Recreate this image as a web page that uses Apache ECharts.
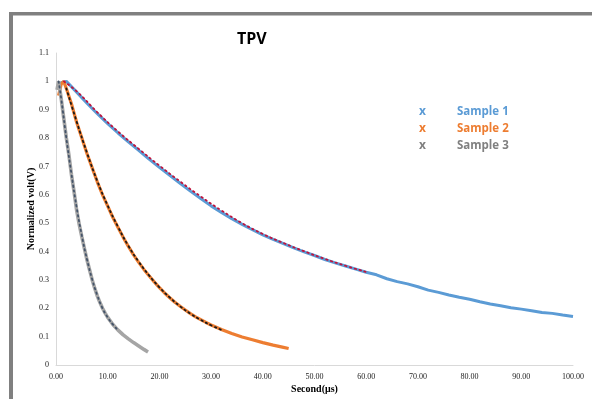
<!DOCTYPE html>
<html>
<head>
<meta charset="utf-8">
<script src="https://cdn.jsdelivr.net/npm/echarts@6/dist/echarts.min.js"></script>
<style>html,body{margin:0;padding:0;background:#fff}#c{width:592px;height:399px}</style>
</head>
<body>
<div id="c"></div>
<script>
const seriesNames = ['Sample 1', 'Sample 2', 'Sample 3'];
const xTicks = [0, 10, 20, 30, 40, 50, 60, 70, 80, 90, 100];

const s1Time = [0.5, 1, 2, 4, 6, 8, 10, 12, 14, 16, 18, 20, 22, 24, 26, 28, 30, 32, 34, 36, 38, 40, 42, 44, 46, 48, 50, 52, 54, 56, 58, 60, 62, 64, 66, 68, 70, 72, 74, 76, 78, 80, 82, 84, 86, 88, 90, 92, 94, 96, 98, 100];
const s1Volt = [0.97, 0.995, 1.0, 0.962, 0.923, 0.886, 0.851, 0.818, 0.787, 0.757, 0.726, 0.697, 0.669, 0.641, 0.613, 0.587, 0.561, 0.538, 0.516, 0.496, 0.477, 0.459, 0.443, 0.428, 0.413, 0.399, 0.386, 0.372, 0.36, 0.349, 0.338, 0.327, 0.318, 0.304, 0.294, 0.286, 0.276, 0.264, 0.256, 0.247, 0.239, 0.232, 0.223, 0.215, 0.209, 0.202, 0.197, 0.191, 0.185, 0.182, 0.176, 0.171];

const s2Time = [0.5, 1, 1.5, 2, 3, 4, 5, 6, 7, 8, 9, 10, 11, 12, 13, 14, 15, 16, 17, 18, 19, 20, 21, 22, 23, 24, 25, 26, 27, 28, 29, 30, 32, 34, 36, 38, 40, 42, 44, 45];
const s2Volt = [0.95, 0.99, 1.0, 0.975, 0.92, 0.855, 0.8, 0.745, 0.695, 0.645, 0.6, 0.56, 0.52, 0.485, 0.45, 0.418, 0.388, 0.362, 0.337, 0.315, 0.293, 0.273, 0.254, 0.237, 0.221, 0.207, 0.194, 0.181, 0.17, 0.16, 0.15, 0.141, 0.125, 0.111, 0.099, 0.089, 0.079, 0.07, 0.062, 0.058];

const s3Time = [0.2, 0.5, 1, 1.5, 2, 2.5, 3, 3.5, 4, 4.5, 5, 5.5, 6, 6.5, 7, 7.5, 8, 8.5, 9, 9.5, 10, 11, 12, 13, 14, 15, 16, 17, 17.8];
const s3Volt = [0.97, 1.0, 0.94, 0.87, 0.8, 0.74, 0.67, 0.61, 0.545, 0.495, 0.452, 0.41, 0.37, 0.335, 0.3, 0.27, 0.243, 0.22, 0.2, 0.183, 0.168, 0.143, 0.123, 0.106, 0.092, 0.079, 0.067, 0.055, 0.046];

const fit1Time = [1.5, 4, 8, 12, 16, 20, 24, 28, 32, 36, 40, 44, 48, 52, 56, 60];
const fit1Volt = [1.0, 0.965, 0.891, 0.823, 0.762, 0.703, 0.647, 0.594, 0.545, 0.5, 0.462, 0.43, 0.401, 0.374, 0.35, 0.328];
const fit2Time = [2, 4, 6, 8, 10, 12, 14, 16, 18, 20, 22, 24, 26, 28, 30, 32];
const fit2Volt = [0.975, 0.858, 0.748, 0.648, 0.562, 0.487, 0.42, 0.364, 0.316, 0.274, 0.238, 0.207, 0.181, 0.159, 0.14, 0.124];
const fit3Time = [0.5, 1, 2, 3, 4, 5, 6, 7, 8, 9, 10, 11, 12];
const fit3Volt = [1.0, 0.94, 0.8, 0.672, 0.555, 0.456, 0.372, 0.302, 0.245, 0.2, 0.168, 0.143, 0.123];

const pair = (xs, ys) => xs.map((x, i) => [x, ys[i]]);
const colors = ['#5b9bd5', '#ed7d31', '#a5a5a5'];
const textColors = ['#5b9bd5', '#ed7d31', '#808080'];
const fitColors = ['#c0143c', '#1a1a1a', '#44546a'];

const chart = echarts.init(document.getElementById('c'), null, {renderer: 'canvas'});
const serif = '"Liberation Serif", "DejaVu Serif", serif';
const sans = '"Open Sans", "Noto Sans", sans-serif';

function dataLine(name, data, color, width) {
  return {name, type: 'line', data, showSymbol: false, symbol: 'none', animation: false,
    lineStyle: {color, width}, z: 2};
}
function fitLine(data, color) {
  return {type: 'line', data, showSymbol: false, symbol: 'none', smooth: true, animation: false,
    lineStyle: {color, width: 1.8, type: [1.5, 3.5], cap: 'round'}, z: 3};
}

const legendY = [114, 131, 148];
const legendGraphics = [];
seriesNames.forEach((n, i) => {
  legendGraphics.push({type: 'text', left: 419, top: legendY[i] - 8,
    style: {text: 'x', fill: textColors[i], font: 'bold 12px ' + sans}});
  legendGraphics.push({type: 'text', left: 457, top: legendY[i] - 8,
    style: {text: n, fill: textColors[i], font: 'bold 11.5px ' + sans}});
});

chart.setOption({
  backgroundColor: '#fff',
  title: {text: 'TPV', left: 232, top: 26,
    textStyle: {fontFamily: sans, fontWeight: 'bold', fontSize: 16, color: '#000'}},
  grid: {left: 56, right: 19, top: 53, bottom: 33},
  xAxis: {type: 'value', min: 0, max: 100, interval: 10,
    name: 'Second(μs)', nameLocation: 'middle', nameGap: 19, nameMoveOverlap: false,
    nameTextStyle: {fontFamily: serif, fontWeight: 'bold', fontSize: 10, color: '#000'},
    axisLine: {show: true, lineStyle: {color: '#d9d9d9', width: 1}},
    axisTick: {show: false}, splitLine: {show: false},
    axisLabel: {fontFamily: serif, fontSize: 8, color: '#222', margin: 8,
      formatter: v => v.toFixed(2)}},
  yAxis: {type: 'value', min: 0, max: 1.1, interval: 0.1,
    name: 'Normalized volt(V)', nameLocation: 'middle', nameGap: 20, nameMoveOverlap: false,
    nameTextStyle: {fontFamily: serif, fontWeight: 'bold', fontSize: 10, color: '#000'},
    axisLine: {show: true, lineStyle: {color: '#d9d9d9', width: 1}},
    axisTick: {show: false}, splitLine: {show: false},
    axisLabel: {fontFamily: serif, fontSize: 8, color: '#222', margin: 7}},
  series: [
    dataLine(seriesNames[0], pair(s1Time, s1Volt), colors[0], 3),
    dataLine(seriesNames[1], pair(s2Time, s2Volt), colors[1], 3.2),
    dataLine(seriesNames[2], pair(s3Time, s3Volt), colors[2], 3.6),
    fitLine(pair(fit1Time, fit1Volt), fitColors[0]),
    fitLine(pair(fit2Time, fit2Volt), fitColors[1]),
    fitLine(pair(fit3Time, fit3Volt), fitColors[2])
  ],
  graphic: [
    {type: 'rect', left: 9, top: 12, shape: {width: 600, height: 3.5}, style: {fill: '#808080'}},
    {type: 'rect', left: 9, top: 12, shape: {width: 4, height: 400}, style: {fill: '#808080'}}
  ].concat(legendGraphics)
});
</script>
</body>
</html>
